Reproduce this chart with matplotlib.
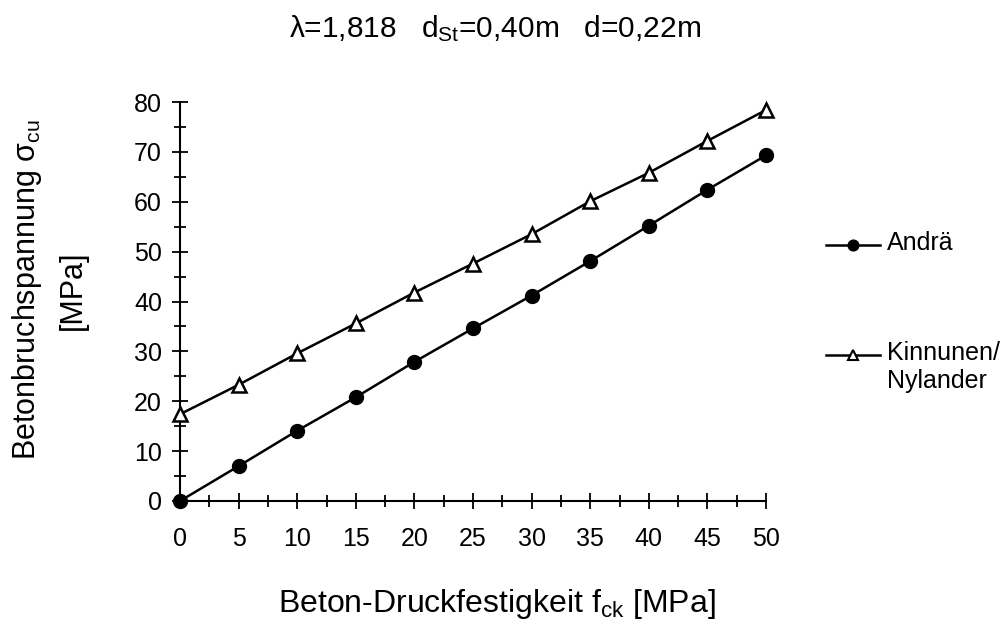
import numpy as np
import matplotlib
matplotlib.use("Agg")
import matplotlib.pyplot as plt
from matplotlib.lines import Line2D
from matplotlib.ticker import MultipleLocator

plt.rcParams['font.family'] = ['Liberation Sans', 'DejaVu Sans']
plt.rcParams['mathtext.fontset'] = 'custom'
plt.rcParams['mathtext.rm'] = 'Liberation Sans'
plt.rcParams['mathtext.it'] = 'Liberation Sans:italic'

# Daten
fck = [0, 5, 10, 15, 20, 25, 30, 35, 40, 45, 50]
andrae = [0, 7.0, 14.1, 20.8, 27.9, 34.6, 41.2, 48.1, 55.2, 62.4, 69.3]
kinnunen = [17.4, 23.3, 29.6, 35.6, 41.8, 47.6, 53.5, 60.1, 65.8, 72.2, 78.4]
labels = ["Andrä", "Kinnunen/\nNylander"]

fig = plt.figure(figsize=(10.05, 6.28), dpi=100)
ax = fig.add_axes([180/1005, 1-501/628, 586/1005, 399/628])

ax.plot(fck, andrae, "k-", lw=1.8, marker="o", ms=10, clip_on=False, zorder=3)
ax.plot(fck, kinnunen, "k-", lw=1.8, marker="^", ms=10, mfc="white",
        mec="black", mew=1.8, clip_on=False, zorder=3)

ax.set_xlim(0, 50)
ax.set_ylim(0, 80)
ax.xaxis.set_major_locator(MultipleLocator(5))
ax.xaxis.set_minor_locator(MultipleLocator(2.5))
ax.yaxis.set_major_locator(MultipleLocator(10))
ax.yaxis.set_minor_locator(MultipleLocator(5))

for s in ["top", "right"]:
    ax.spines[s].set_visible(False)
for s in ["left", "bottom"]:
    ax.spines[s].set_linewidth(1.5)

ax.tick_params(which="major", direction="inout", length=12, width=1.3, labelsize=18)
ax.tick_params(which="minor", direction="inout", length=8.5, width=1.3)
ax.tick_params(axis="x", which="major", pad=13)
ax.tick_params(axis="y", which="major", pad=7)

ax.set_xlabel(r"Beton-Druckfestigkeit f$_{\mathrm{ck}}$ [MPa]", fontsize=23)
ax.xaxis.set_label_coords(0.54, -0.215)
ax.set_ylabel("Betonbruchspannung σ$_{\\mathrm{cu}}$\n[MPa]", fontsize=22,
              linespacing=1.6)
ax.yaxis.set_label_coords(-0.157, 0.529)

fig.text(0.493, 1-37.5/628, "λ=1,818   d$_{\\mathrm{St}}$=0,40m   d=0,22m",
         ha="center", va="baseline", fontsize=21.5)

# Legende
leg_y = [245, 355]
for yy, lab, mk in zip(leg_y, labels, ["o", "^"]):
    yf = 1 - yy/628
    ln = Line2D([826/1005, 880/1005], [yf, yf], color="k", lw=1.8,
                transform=fig.transFigure)
    if mk == "o":
        mkr = Line2D([853/1005], [yf], marker="o", ms=7.7, color="k",
                     transform=fig.transFigure)
    else:
        mkr = Line2D([853/1005], [yf], marker="^", ms=6.5, mfc="white",
                     mec="k", mew=1.5, transform=fig.transFigure)
    fig.add_artist(ln)
    fig.add_artist(mkr)
    fig.text(887/1005, yf + 14/628, lab, ha="left", va="top", fontsize=18,
             linespacing=1.2)

fig.savefig("out.png", dpi=100)
